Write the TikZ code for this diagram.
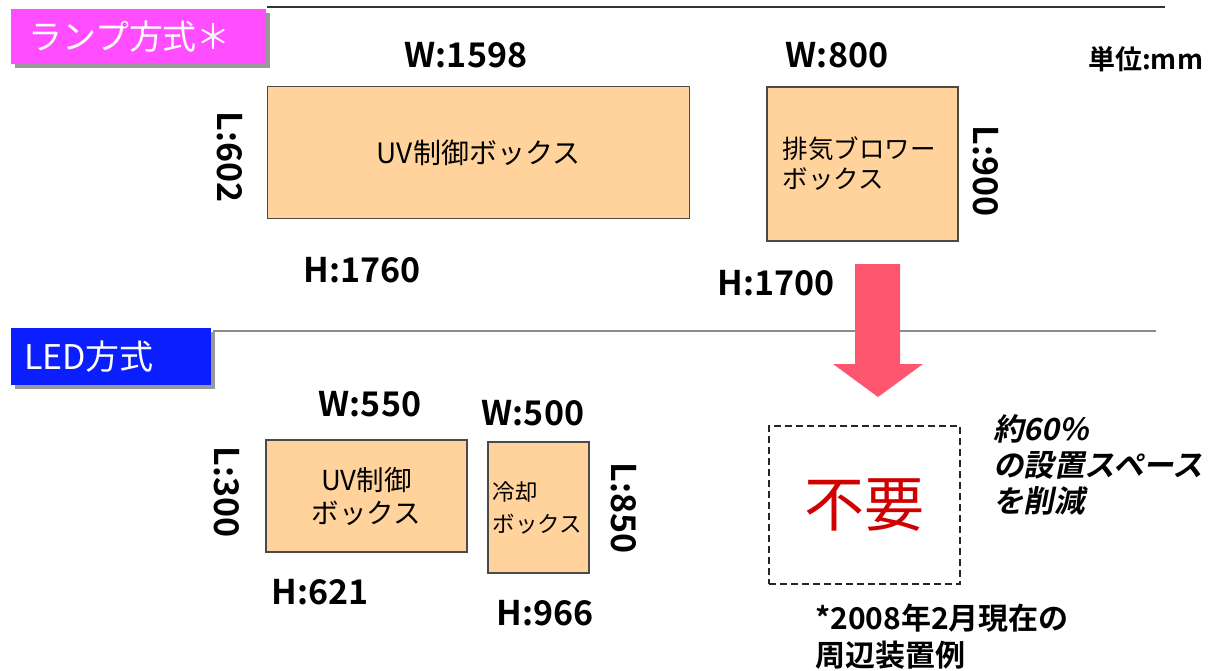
\documentclass[tikz,border=0pt]{standalone}
\usepackage{fontspec}
\setmainfont{Noto Sans CJK JP}
\newfontfamily\jpr{Noto Sans CJK JP}
\newfontfamily\jpb{Noto Sans CJK JP Bold}
\newfontfamily\jpbi{Noto Sans CJK JP Bold}[FakeSlant=0.2]
\usetikzlibrary{shadows}
\definecolor{peach}{HTML}{FFD39B}
\definecolor{boxline}{HTML}{4A4A4A}
\definecolor{tagmag}{HTML}{FF4DFF}
\definecolor{tagblue}{HTML}{0A1EFF}
\definecolor{arrowred}{HTML}{FF5670}
\definecolor{nored}{HTML}{D00000}
\tikzset{
  unitbox/.style={draw=boxline, line width=1.2pt, fill=peach, inner sep=0pt, font=\jpr\fontsize{28}{32}\selectfont},
  tagbox/.style={inner sep=0pt, text=white, font=\jpr\fontsize{34}{38}\selectfont,
     drop shadow={shadow xshift=4pt, shadow yshift=-4pt, fill=gray!80, opacity=1}},
  dimlabel/.style={inner sep=0pt, font=\jpb\fontsize{34}{40}\selectfont},
  sepline/.style={line width=2pt},
  notetext/.style={inner sep=0pt, align=left, font=\jpb\fontsize{30}{37}\selectfont},
}
\begin{document}
\begin{tikzpicture}[x=1pt, y=-1pt]
\useasboundingbox (0,0) rectangle (1217,670);
% section tags
\node[tagbox, fill=tagmag, minimum width=255pt, minimum height=55pt, text width=221pt, align=left] (lampTag) at (138.5,36.5) {ランプ方式＊};
\node[tagbox, fill=tagblue, minimum width=200pt, minimum height=57pt, text width=174pt, align=left] (ledTag) at (111,356.5) {LED方式};
% separator lines
\coordinate (l1e) at (1165,7);
\coordinate (l2e) at (1156,331);
\draw[sepline, draw=black!80] ([xshift=1pt]lampTag.east |- l1e) -- (l1e);
\draw[sepline, draw=gray!90, line width=2.5pt] ([xshift=2pt]ledTag.east |- l2e) -- (l2e);
% lamp system boxes
\node[unitbox, minimum width=422pt, minimum height=132pt] (uv1) at (478.5,152.5) {UV制御ボックス};
\node[unitbox, minimum width=191pt, minimum height=154pt, text width=160pt, align=left, font=\jpr\fontsize{25.5}{30}\selectfont] (ex1) at (862.5,164) {排気ブロワー\\ボックス};
% LED system boxes
\node[unitbox, minimum width=201pt, minimum height=112pt, align=center, font=\jpr\fontsize{27.5}{33}\selectfont] (uv2) at (366.5,496) {UV制御\\ボックス};
\node[unitbox, minimum width=101pt, minimum height=131pt, text width=92pt, align=left, font=\jpr\fontsize{22.5}{32}\selectfont] (cool) at (538.5,507.5) {冷却\\ボックス};
% dimension labels
\node[dimlabel] (w1598) at (466,55) {W:1598};
\node[dimlabel] (w800) at (837,55) {W:800};
\node[dimlabel, anchor=west, font=\jpb\fontsize{27}{30}\selectfont] (unit) at (1088,59) {単位:mm};
\node[dimlabel, rotate=-90] (l602) at (230,157) {L:602};
\node[dimlabel, rotate=-90] (l900) at (986,171) {L:900};
\node[dimlabel] (h1760) at (362,270) {H:1760};
\node[dimlabel] (h1700) at (776,283) {H:1700};
\node[dimlabel] (w550) at (370,404) {W:550};
\node[dimlabel] (w500) at (533,413) {W:500};
\node[dimlabel, rotate=-90] (l300) at (227,492) {L:300};
\node[dimlabel, rotate=-90] (l850) at (624,508) {L:850};
\node[dimlabel] (h621) at (320,592) {H:621};
\node[dimlabel] (h966) at (545,613) {H:966};
% big arrow
\fill[arrowred] (855,264) -- (900,264) -- (900,364) -- (923,364) -- (878,397) -- (833,364) -- (855,364) -- cycle;
% not needed box
\node[draw=black!85, line width=1.5pt, dash pattern=on 7pt off 4pt, minimum width=191pt, minimum height=158pt, inner sep=0pt,
      text=nored, font=\jpr\fontsize{60}{62}\selectfont] (nobox) at (864.5,505) {不要};
% notes
\node[notetext, anchor=west, font=\jpbi\fontsize{30.5}{36}\selectfont] (save) at (993,465) {約60\%\\の設置スペース\\を削減};
\node[notetext, anchor=west] (foot) at (815,637) {*2008年2月現在の\\周辺装置例};
\end{tikzpicture}
\end{document}
